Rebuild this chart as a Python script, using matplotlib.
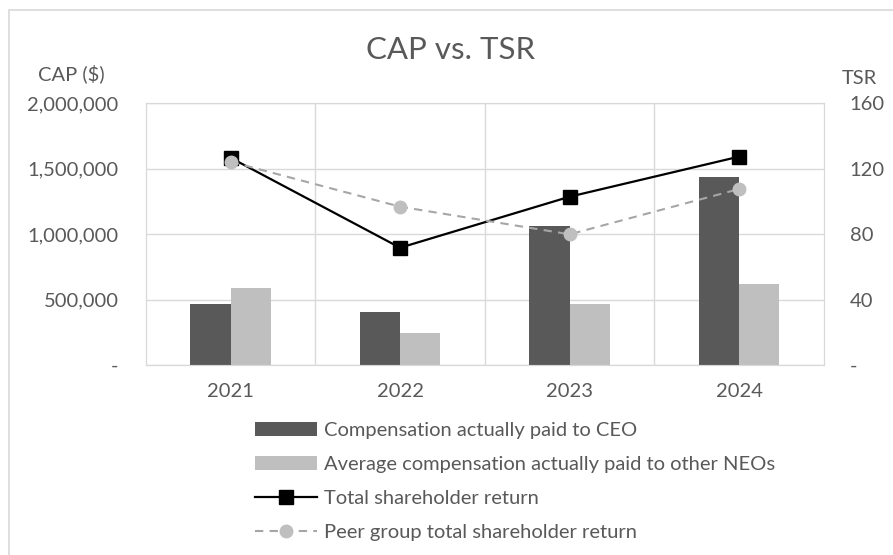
import matplotlib.pyplot as plt
import matplotlib.ticker as mticker
from matplotlib.patches import Rectangle
import numpy as np

# данные
years = ['2021', '2022', '2023', '2024']
cap_ceo = [464000, 407000, 1065000, 1439000]
cap_neo = [586000, 242000, 464000, 617000]
tsr = [126.7, 71.7, 102.9, 127.4]
peer_tsr = [124.3, 96.8, 79.9, 107.6]

plt.rcParams['font.family'] = ['Lato', 'DejaVu Sans']
grey_txt = '#595959'
fs = 14.5

fig = plt.figure(figsize=(8.93, 5.55), dpi=100)
ax = fig.add_axes([0.1632, 0.3423, 0.7595, 0.4716])
ax2 = ax.twinx()

x = np.arange(len(years))
w = 0.237
ax.bar(x - w / 2, cap_ceo, w, color='#595959', label='Compensation actually paid to CEO', zorder=3)
ax.bar(x + w / 2, cap_neo, w, color='#bfbfbf', label='Average compensation actually paid to other NEOs', zorder=3)

ax2.plot(x, tsr, color='black', lw=1.6, marker='s', markersize=10,
         label='Total shareholder return', zorder=4)
ax2.plot(x, peer_tsr, color='#a6a6a6', lw=1.5, ls=(0, (4, 3)), marker='o', markersize=9,
         markerfacecolor='#bfbfbf', markeredgecolor='#bfbfbf',
         label='Peer group total shareholder return', zorder=4)

ax.set_xlim(-0.5, 3.5)
ax.set_ylim(0, 2000000)
ax2.set_ylim(0, 160)
ax.set_yticks([0, 500000, 1000000, 1500000, 2000000])
ax2.set_yticks([0, 40, 80, 120, 160])
ax.yaxis.set_major_formatter(mticker.FuncFormatter(lambda v, p: '-' if v == 0 else f'{int(v):,}'))
ax2.yaxis.set_major_formatter(mticker.FuncFormatter(lambda v, p: '-' if v == 0 else f'{int(v)}'))
ax.set_xticks(x)
ax.set_xticklabels(years)

# вертикальные линии между годами
ax.set_xticks([0.5, 1.5, 2.5], minor=True)
ax.grid(True, which='major', axis='y', color='#d9d9d9', lw=1, zorder=0)
ax.grid(True, which='minor', axis='x', color='#d9d9d9', lw=1, zorder=0)

for a in (ax, ax2):
    for s in a.spines.values():
        s.set_color('#d9d9d9')
    a.tick_params(length=0, which='both', labelsize=fs, colors=grey_txt)
ax.tick_params(axis='y', pad=19.5)
ax.tick_params(axis='x', pad=13)
ax2.tick_params(axis='y', pad=18.5)

fig.text(0.504, 0.91, 'CAP vs. TSR', ha='center', va='center', fontsize=22.5, color=grey_txt)
fig.text(0.080, 0.868, 'CAP ($)', ha='center', va='center', fontsize=fs, color=grey_txt)
fig.text(0.962, 0.859, 'TSR', ha='center', va='center', fontsize=fs, color=grey_txt)

# рамка всего графика
fig.patches.append(Rectangle((9 / 893, -0.1), 1.2, 1 - 10 / 555 + 0.1, transform=fig.transFigure,
                             fill=False, edgecolor='#d9d9d9', lw=1.2))

h1, l1 = ax.get_legend_handles_labels()
h2, l2 = ax2.get_legend_handles_labels()
leg = fig.legend(h1 + h2, l1 + l2, loc='upper left', bbox_to_anchor=(0.2856, 0.239),
                 frameon=False, fontsize=fs, handlelength=3.1, labelspacing=0.84,
                 handletextpad=0.3, borderpad=0, borderaxespad=0)
for t in leg.get_texts():
    t.set_color(grey_txt)

fig.savefig('out.png', dpi=100)
